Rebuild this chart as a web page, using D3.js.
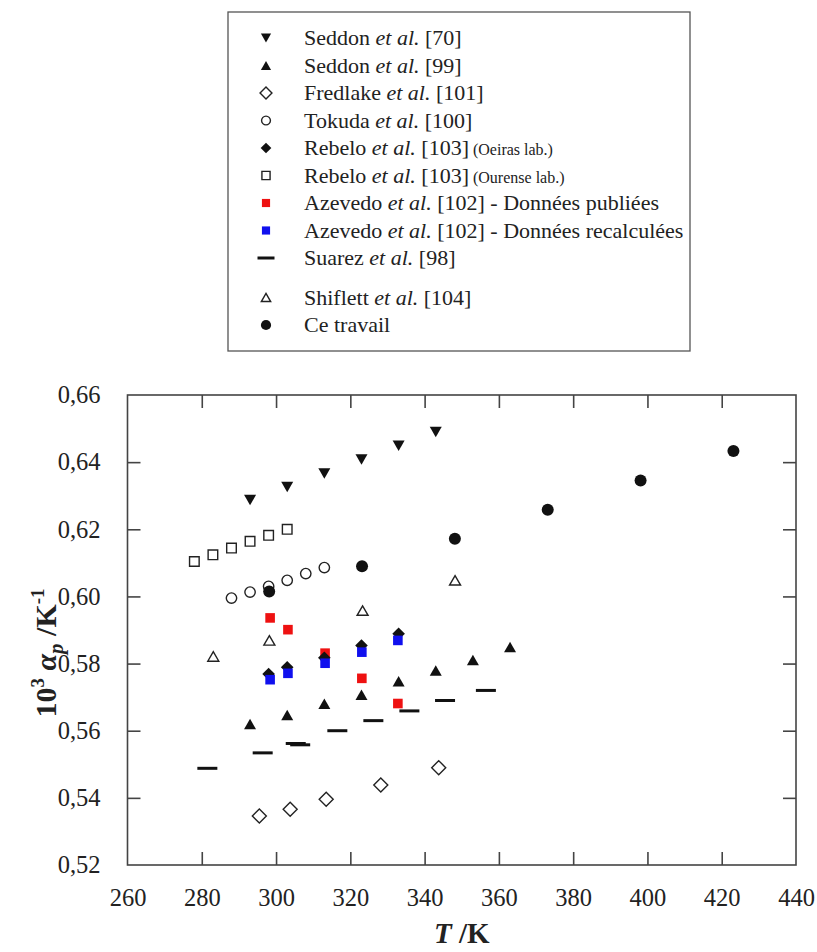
<!DOCTYPE html>
<html><head><meta charset="utf-8">
<script src="https://cdn.jsdelivr.net/npm/d3@7"></script>
<style>body{margin:0;background:#fff}svg{display:block}text{font-family:"Liberation Serif","Times New Roman",serif;fill:#222}</style>
</head><body>
<svg id="c" width="817" height="952"></svg>
<script>
const xTicks = [260,280,300,320,340,360,380,400,420,440];
const yTicks = [0.52,0.54,0.56,0.58,0.60,0.62,0.64,0.66];

const seddon70T = [293,303,313,323,333,343];
const seddon70V = [0.6287,0.6326,0.6366,0.6408,0.6449,0.6490];
const seddon99T = [293,303,313,323,333,343,353,363];
const seddon99V = [0.5620,0.5647,0.5680,0.5707,0.5747,0.5779,0.5811,0.5849];
const fredlakeT = [295.5,303.8,313.5,328.2,343.8];
const fredlakeV = [0.5346,0.5366,0.5396,0.5438,0.5490];
const tokudaT = [288,293,298,303,308,313];
const tokudaV = [0.5995,0.6013,0.6030,0.6048,0.6068,0.6086];
const rebeloOeT = [298,303,313,323,333];
const rebeloOeV = [0.5769,0.5789,0.5817,0.5854,0.5889];
const rebeloOuT = [278,283,288,293,298,303];
const rebeloOuV = [0.6104,0.6124,0.6144,0.6164,0.6182,0.6200];
const azPubT = [298.4,303.2,313.2,323.1,332.8];
const azPubV = [0.5936,0.5901,0.5831,0.5756,0.5681];
const azRecT = [298.4,303.2,313.2,323.1,332.8];
const azRecV = [0.5752,0.5771,0.5801,0.5834,0.5869];
const suarezT = [281.5,296.4,305.3,306.5,316.5,326.2,335.9,345.5,356.5];
const suarezV = [0.5488,0.5534,0.5562,0.5558,0.5600,0.5630,0.5659,0.5690,0.5720];
const shiflettT = [283.1,298.2,323.3,348.2];
const shiflettV = [0.5821,0.5869,0.5958,0.6048];
const ceTravailT = [298.15,323.15,348.15,373.15,398.15,423.15];
const ceTravailV = [0.6015,0.6090,0.6172,0.6258,0.6345,0.6433];

const legendItems = [
  {name:"Seddon", ref:"[70]", extra:"", sym:"triDown"},
  {name:"Seddon", ref:"[99]", extra:"", sym:"triUp"},
  {name:"Fredlake", ref:"[101]", extra:"", sym:"diamondOpen"},
  {name:"Tokuda", ref:"[100]", extra:"", sym:"circleOpen"},
  {name:"Rebelo", ref:"[103]", extra:"(Oeiras lab.)", sym:"diamond"},
  {name:"Rebelo", ref:"[103]", extra:"(Ourense lab.)", sym:"squareOpen"},
  {name:"Azevedo", ref:"[102] - Données publiées", extra:"", sym:"squareRed"},
  {name:"Azevedo", ref:"[102] - Données recalculées", extra:"", sym:"squareBlue"},
  {name:"Suarez", ref:"[98]", extra:"", sym:"dash"},
  {name:"Shiflett", ref:"[104]", extra:"", sym:"triOpen"},
  {name:"Ce travail", ref:"", extra:"", sym:"circle", plain:true}
];

const svg = d3.select("#c");
const L = 127.5, R = 796, T = 395, B = 865;
const x = d3.scaleLinear().domain([260,440]).range([L,R]);
const y = d3.scaleLinear().domain([0.52,0.66]).range([B,T]);

function symPath(sym, s){
  s = s || 1;
  switch(sym){
    case "triDown": { const w=12*s,h=10.5*s; return `M${-w/2},${-h/2}L${w/2},${-h/2}L0,${h/2}Z`; }
    case "triUp": { const w=12*s,h=10.5*s; return `M${-w/2},${h/2}L${w/2},${h/2}L0,${-h/2}Z`; }
    case "triOpen": { const w=11*s,h=9.5*s; return `M${-w/2},${h/2}L${w/2},${h/2}L0,${-h/2}Z`; }
    case "diamondOpen": { const w=7*s; return `M0,${-w}L${w},0L0,${w}L${-w},0Z`; }
    case "diamond": { const w=6.3*s; return `M0,${-w}L${w},0L0,${w}L${-w},0Z`; }
    case "squareOpen": { const w=4.8*s; return `M${-w},${-w}H${w}V${w}H${-w}Z`; }
    case "squareRed": case "squareBlue": { const w=4.8*s; return `M${-w},${-w}H${w}V${w}H${-w}Z`; }
    case "circleOpen": { const r=5.2*s; return `M${r},0A${r},${r} 0 1,1 ${-r},0A${r},${r} 0 1,1 ${r},0Z`; }
    case "circle": { const r=6*s; return `M${r},0A${r},${r} 0 1,1 ${-r},0A${r},${r} 0 1,1 ${r},0Z`; }
    case "dash": { const w=10*s; return `M${-w},0H${w}`; }
  }
}
function symStyle(sel, sym){
  const open = ["triOpen","diamondOpen","squareOpen","circleOpen"].includes(sym);
  if (sym==="dash") sel.attr("fill","none").attr("stroke","#111").attr("stroke-width",3);
  else if (open) sel.attr("fill","#fff").attr("stroke","#222").attr("stroke-width",1.4);
  else if (sym==="squareRed") sel.attr("fill","#ee1111").attr("stroke","none");
  else if (sym==="squareBlue") sel.attr("fill","#1010ee").attr("stroke","none");
  else sel.attr("fill","#111").attr("stroke","none");
}

// axes frame
const g = svg.append("g");
g.append("rect").attr("x",L).attr("y",T).attr("width",R-L).attr("height",B-T)
  .attr("fill","none").attr("stroke","#444").attr("stroke-width",1.6);

const tickLen = 13;
const axB = d3.axisBottom(x).tickValues(xTicks).tickSizeInner(-tickLen).tickSizeOuter(0).tickPadding(24).tickFormat(d3.format("d"));
const axT = d3.axisTop(x).tickValues(xTicks).tickSizeInner(-tickLen).tickSizeOuter(0).tickFormat("");
const axL = d3.axisLeft(y).tickValues(yTicks).tickSizeInner(-tickLen).tickSizeOuter(0).tickPadding(27).tickFormat(d=>d3.format(".2f")(d).replace(".",","));
const axRt = d3.axisRight(y).tickValues(yTicks).tickSizeInner(-tickLen).tickSizeOuter(0).tickFormat("");
function styleAx(sel){
  sel.attr("font-family",null);
  sel.select(".domain").remove();
  sel.selectAll(".tick line").attr("stroke","#444").attr("stroke-width",1.6);
  sel.selectAll(".tick text").attr("font-size",24.5).attr("fill","#222");
}
g.append("g").attr("transform",`translate(0,${B})`).call(axB).call(styleAx);
g.append("g").attr("transform",`translate(0,${T})`).call(axT).call(styleAx);
g.append("g").attr("transform",`translate(${L},0)`).call(axL).call(styleAx);
g.append("g").attr("transform",`translate(${R},0)`).call(axRt).call(styleAx);
g.selectAll(".tick").filter(d=>d===260||d===440||d===0.52||d===0.66).select("line").remove();

// series
function series(Ts, Vs, sym){
  const data = Ts.map((t,i)=>({t, v:Vs[i]}));
  g.append("g").selectAll("path").data(data).join("path")
    .attr("transform",d=>`translate(${x(d.t)},${y(d.v)})`)
    .attr("d",symPath(sym)).call(symStyle, sym);
}
series(seddon70T, seddon70V, "triDown");
series(seddon99T, seddon99V, "triUp");
series(fredlakeT, fredlakeV, "diamondOpen");
series(rebeloOuT, rebeloOuV, "squareOpen");
series(tokudaT, tokudaV, "circleOpen");
series(suarezT, suarezV, "dash");
series(shiflettT, shiflettV, "triOpen");
series(azPubT, azPubV, "squareRed");
series(rebeloOeT, rebeloOeV, "diamond");
series(azRecT, azRecV, "squareBlue");
series(ceTravailT, ceTravailV, "circle");

// axis titles
const xt = svg.append("text").attr("x",(L+R)/2).attr("y",943).attr("text-anchor","middle")
  .attr("font-size",29).attr("font-weight","bold");
xt.append("tspan").attr("font-style","italic").text("T");
xt.append("tspan").text(" /K");

const yt = svg.append("text").attr("transform","translate(56,653) rotate(-90)").attr("text-anchor","middle")
  .attr("font-size",30).attr("font-weight","bold");
yt.append("tspan").text("10");
yt.append("tspan").attr("font-size",19).attr("dy",-12).text("3");
yt.append("tspan").attr("dy",12).text(" ");
yt.append("tspan").attr("font-style","italic").text("α");
yt.append("tspan").attr("font-style","italic").attr("font-size",21).attr("dy",7).text("p");
yt.append("tspan").attr("dy",-7).text(" /K");
yt.append("tspan").attr("font-size",19).attr("dy",-12).text("-1");

// legend
const lg = svg.append("g");
lg.append("rect").attr("x",228).attr("y",12).attr("width",462).attr("height",339)
  .attr("fill","#fff").attr("stroke","#555").attr("stroke-width",1.3);
legendItems.forEach((it,i)=>{
  const cy = 38 + i*27.5 + (i>=9 ? 12 : 0);
  lg.append("path").attr("transform",`translate(266,${cy})`).attr("d",symPath(it.sym,0.85)).call(symStyle,it.sym);
  const t = lg.append("text").attr("x",304).attr("y",cy+7).attr("font-size",22);
  if (it.plain){ t.text(it.name); return; }
  t.append("tspan").text(it.name+" ");
  t.append("tspan").attr("font-style","italic").text("et al.");
  t.append("tspan").text(" "+it.ref);
  if (it.extra) t.append("tspan").attr("font-size",16).text(" "+it.extra);
});
</script>
</body></html>
